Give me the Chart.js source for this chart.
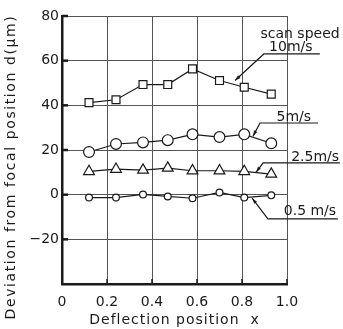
<!DOCTYPE html>
<html>
<head>
<meta charset="utf-8">
<script src="https://cdn.jsdelivr.net/npm/chart.js@4.4.1/dist/chart.umd.min.js"></script>
<style>
  body { margin: 0; background: #fff; }
</style>
</head>
<body>
<canvas id="chart" width="343" height="329"></canvas>
<script>
// deflection positions (shared by all series)
const xPos = [0.12, 0.24, 0.36, 0.47, 0.58, 0.70, 0.81, 0.93];
// deviation d (um) per scan speed
const speed10 = [41.2, 42.5, 49.3, 49.3, 56.3, 51.1, 48.1, 45.0];
const speed5 = [19.1, 22.7, 23.4, 24.4, 27.0, 25.8, 27.0, 23.0];
const speed25 = [10.4, 11.4, 11.0, 11.9, 10.7, 10.7, 10.4, 9.2];
const speed05 = [-1.3, -1.3, 0.1, -0.8, -1.6, 1.0, -1.3, -0.3];
const seriesNames = ['10m/s', '5m/s', '2.5m/s', '0.5 m/s'];
const yTicks = [80, 60, 40, 20, 0, -20];
const xTicks = [0, 0.2, 0.4, 0.6, 0.8, 1.0];

const ink = '#1a1a1a';
const font = 'DejaVu Sans';

function pts(ys) {
    return xPos.map((x, i) => ({ x: x, y: ys[i] }));
}

// leader labels, placed in data units
const notes = [
    { text: 'scan speed', x: 1.058, y: 71.6 },
    { text: seriesNames[0], x: 1.017, y: 65.8, line: [0.897, 1.146, 63], tip: [0.769, 51.1] },
    { text: seriesNames[1], x: 1.03, y: 34.7, line: [0.880, 1.138, 32.1], tip: [0.849, 26.2] },
    { text: seriesNames[2], x: 1.125, y: 16.9, line: [0.894, 1.235, 14.2], tip: [0.862, 10.0] },
    { text: seriesNames[3], x: 1.102, y: -7.6, line: [0.915, 1.226, -10.8], tip: [0.845, -1.6] }
];

const extras = {
    id: 'extras',
    afterDraw(chart) {
        const ctx = chart.ctx;
        const xs = chart.scales.x, ys = chart.scales.y;
        const area = chart.chartArea;
        ctx.save();
        ctx.strokeStyle = ink;
        ctx.fillStyle = ink;

        // inward ticks
        ctx.lineWidth = 2.5;
        yTicks.forEach(v => {
            const py = ys.getPixelForValue(v);
            ctx.beginPath();
            ctx.moveTo(area.left, py);
            ctx.lineTo(area.left + 6, py);
            ctx.stroke();
        });
        ctx.lineWidth = 1.5;
        xTicks.slice(1).forEach(v => {
            const px = xs.getPixelForValue(v);
            ctx.beginPath();
            ctx.moveTo(px, area.bottom);
            ctx.lineTo(px, area.bottom - 5);
            ctx.stroke();
        });

        // speed labels with leaders
        ctx.font = '14px "' + font + '"';
        ctx.textAlign = 'center';
        ctx.textBaseline = 'middle';
        notes.forEach(n => {
            ctx.fillText(n.text, xs.getPixelForValue(n.x), ys.getPixelForValue(n.y));
            if (!n.line) return;
            const x0 = xs.getPixelForValue(n.line[0]);
            const x1 = xs.getPixelForValue(n.line[1]);
            const yl = ys.getPixelForValue(n.line[2]);
            const tx = xs.getPixelForValue(n.tip[0]);
            const ty = ys.getPixelForValue(n.tip[1]);
            ctx.lineWidth = 1.2;
            ctx.beginPath();
            ctx.moveTo(x1, yl);
            ctx.lineTo(x0, yl);
            ctx.lineTo(tx, ty);
            ctx.stroke();
            const ang = Math.atan2(ty - yl, tx - x0);
            ctx.beginPath();
            ctx.moveTo(tx, ty);
            ctx.lineTo(tx - 6 * Math.cos(ang - 0.3), ty - 6 * Math.sin(ang - 0.3));
            ctx.lineTo(tx - 6 * Math.cos(ang + 0.3), ty - 6 * Math.sin(ang + 0.3));
            ctx.closePath();
            ctx.fill();
        });

        // axis titles
        ctx.font = '14px "' + font + '"';
        ctx.letterSpacing = '1px';
        ctx.fillText('Deflection position  x', (area.left + area.right) / 2, 320);
        ctx.letterSpacing = '1.6px';
        ctx.translate(11, 167);
        ctx.rotate(-Math.PI / 2);
        ctx.fillText('Deviation from focal position d(\u03bcm)', 0, 0);
        ctx.restore();
    }
};

const common = {
    showLine: true,
    borderColor: ink,
    borderWidth: 1.2,
    pointBackgroundColor: '#fff',
    pointBorderColor: ink,
    pointBorderWidth: 1.2
};

new Chart(document.getElementById('chart'), {
    type: 'scatter',
    data: {
        datasets: [
            Object.assign({ label: seriesNames[0], data: pts(speed10), pointStyle: 'rect', pointRadius: 5.6 }, common),
            Object.assign({ label: seriesNames[1], data: pts(speed5), pointStyle: 'circle', pointRadius: 5.4 }, common),
            Object.assign({ label: seriesNames[2], data: pts(speed25), pointStyle: 'triangle', pointRadius: 6.2 }, common),
            Object.assign({ label: seriesNames[3], data: pts(speed05), pointStyle: 'circle', pointRadius: 3.4 }, common)
        ]
    },
    options: {
        responsive: false,
        animation: false,
        layout: { padding: { top: 16, right: 56, left: 0, bottom: 0 } },
        plugins: { legend: { display: false }, tooltip: { enabled: false } },
        scales: {
            x: {
                type: 'linear',
                min: 0,
                max: 1,
                afterFit: s => { s.height = 45; },
                afterBuildTicks: s => { s.ticks = xTicks.map(v => ({ value: v })); },
                grid: { color: '#555', lineWidth: 1, drawTicks: false },
                border: { display: true, color: ink, width: 2.5 },
                ticks: {
                    color: ink,
                    padding: 10,
                    font: { family: font, size: 14 },
                    callback: v => v === 0 ? '0' : v.toFixed(1)
                }
            },
            y: {
                min: -40,
                max: 80,
                afterFit: s => { s.width = 62; },
                ticks: {
                    stepSize: 20,
                    color: ink,
                    padding: 3,
                    font: { family: font, size: 14 },
                    callback: v => yTicks.includes(v) ? (v < 0 ? '\u2212' + Math.abs(v) : String(v)) : ''
                },
                grid: { color: '#555', lineWidth: 1, drawTicks: false },
                border: { display: true, color: ink, width: 2.5 }
            }
        }
    },
    plugins: [extras]
});
</script>
</body>
</html>
